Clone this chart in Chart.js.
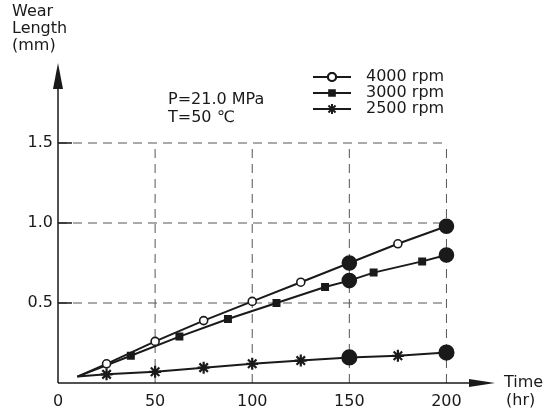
<!DOCTYPE html>
<html lang="en">
<head>
    <meta charset="UTF-8">
    <title>Wear Length vs Time</title>
    <script src="https://cdn.jsdelivr.net/npm/chart.js"></script>
    <style>
        body { margin: 0; background: #fff; }
        #wrap { width: 551px; height: 414px; position: relative; }
    </style>
</head>
<body>
    <div id="wrap"><canvas id="myChart"></canvas></div>

    <script>
        // values
        const time4000 = [10, 25, 50, 75, 100, 125, 150, 175, 200];
        const wear4000 = [0.04, 0.12, 0.26, 0.39, 0.51, 0.63, 0.75, 0.87, 0.98];
        const time3000 = [10, 37.5, 62.5, 87.5, 112.5, 137.5, 150, 162.5, 187.5, 200];
        const wear3000 = [0.04, 0.17, 0.29, 0.40, 0.50, 0.60, 0.64, 0.69, 0.76, 0.80];
        const time2500 = [10, 25, 50, 75, 100, 125, 150, 175, 200];
        const wear2500 = [0.04, 0.054, 0.07, 0.096, 0.12, 0.14, 0.16, 0.17, 0.19];
        const seriesNames = ['4000 rpm', '3000 rpm', '2500 rpm'];
        const xTicks = [0, 50, 100, 150, 200];
        const yTicks = [0.5, 1.0, 1.5];
        const bigTimes = [150, 200]; // measured points drawn as big dots

        const ink = '#1a1a1a';
        const font = '"DejaVu Sans", sans-serif';

        const pts = (t, w) => t.map((x, i) => ({ x: x, y: w[i] }));

        function makeSet(label, t, w, style, small) {
            return {
                label: label,
                data: pts(t, w),
                borderColor: ink,
                borderWidth: 2,
                pointStyle: t.map((x, i) => i === 0 ? false : (bigTimes.includes(x) ? 'circle' : style)),
                pointRadius: t.map((x, i) => i === 0 ? 0 : (bigTimes.includes(x) ? 7 : small)),
                pointBackgroundColor: t.map(x => bigTimes.includes(x) || style !== 'circle' ? ink : '#fff'),
                pointBorderColor: ink,
                pointBorderWidth: style === 'star' ? 2.2 : 1.6,
                tension: 0
            };
        }

        const markerStyles = ['circle', 'rect', 'star'];

        const decor = {
            id: 'decor',
            beforeDatasetsDraw(chart) {
                const ctx = chart.ctx;
                const xs = chart.scales.x, ys = chart.scales.y;
                const x0 = xs.getPixelForValue(0), y0 = ys.getPixelForValue(0);
                ctx.save();
                // dashed grid
                ctx.strokeStyle = '#555';
                ctx.lineWidth = 1;
                ctx.setLineDash([9, 6]);
                xTicks.slice(1).forEach(v => {
                    const px = xs.getPixelForValue(v);
                    ctx.beginPath();
                    ctx.moveTo(px, y0);
                    ctx.lineTo(px, ys.getPixelForValue(yTicks[yTicks.length - 1]));
                    ctx.stroke();
                });
                yTicks.forEach(v => {
                    const py = ys.getPixelForValue(v);
                    ctx.beginPath();
                    ctx.moveTo(x0, py);
                    ctx.lineTo(xs.getPixelForValue(xTicks[xTicks.length - 1]), py);
                    ctx.stroke();
                });
                ctx.setLineDash([]);
                // axes with arrows
                const a = chart.chartArea;
                ctx.strokeStyle = ink;
                ctx.fillStyle = ink;
                ctx.lineWidth = 1.5;
                ctx.beginPath();
                ctx.moveTo(x0, y0);
                ctx.lineTo(x0, a.top + 10);
                ctx.moveTo(x0, y0);
                ctx.lineTo(a.right - 10, y0);
                ctx.stroke();
                ctx.beginPath();
                ctx.moveTo(x0, a.top);
                ctx.lineTo(x0 - 5, a.top + 26);
                ctx.lineTo(x0 + 5, a.top + 26);
                ctx.closePath();
                ctx.fill();
                ctx.beginPath();
                ctx.moveTo(a.right, y0);
                ctx.lineTo(a.right - 26, y0 - 4);
                ctx.lineTo(a.right - 26, y0 + 4);
                ctx.closePath();
                ctx.fill();
                // small tick marks on the y axis
                yTicks.forEach(v => {
                    const py = ys.getPixelForValue(v);
                    ctx.beginPath();
                    ctx.moveTo(x0, py);
                    ctx.lineTo(x0 + 14, py);
                    ctx.stroke();
                });
                // texts
                ctx.font = '16px ' + font;
                ctx.textBaseline = 'middle';
                ctx.textAlign = 'left';
                ctx.fillText('Wear', 12, 12);
                ctx.fillText('Length', 12, 29);
                ctx.fillText('(mm)', 12, 46);
                ctx.fillText('Time', 504, 383);
                ctx.fillText('(hr)', 506, 401);
                ctx.fillText('P=21.0 MPa', 168, 100);
                ctx.fillText('T=50 \u2103', 168, 118);
                // legend
                chart.data.datasets.forEach((ds, i) => {
                    const ly = 77 + i * 16;
                    ctx.lineWidth = 2;
                    ctx.strokeStyle = ink;
                    ctx.beginPath();
                    ctx.moveTo(313, ly);
                    ctx.lineTo(351, ly);
                    ctx.stroke();
                    ctx.fillStyle = i === 0 ? '#fff' : ink;
                    Chart.helpers.drawPoint(ctx, {
                        pointStyle: markerStyles[i],
                        radius: i === 2 ? 5 : 4,
                        borderWidth: i === 2 ? 2.2 : 1.6,
                        rotation: 0
                    }, 332, ly);
                    if (i === 0) {
                        ctx.beginPath();
                        ctx.arc(332, ly, 4, 0, Math.PI * 2);
                        ctx.fill();
                        ctx.stroke();
                    }
                    ctx.fillStyle = ink;
                    ctx.fillText(seriesNames[i], 366, ly);
                });
                ctx.restore();
            }
        };

        window.addEventListener('load', () => {
            const ctx = document.getElementById('myChart').getContext('2d');
            const myChart = new Chart(ctx, {
                type: 'line',
                data: {
                    datasets: [
                        makeSet(seriesNames[0], time4000, wear4000, 'circle', 4),
                        makeSet(seriesNames[1], time3000, wear3000, 'rect', 4.5),
                        makeSet(seriesNames[2], time2500, wear2500, 'star', 6)
                    ]
                },
                options: {
                    responsive: true,
                    maintainAspectRatio: false,
                    animation: false,
                    layout: { padding: { left: 0, top: 63, right: 56, bottom: 0 } },
                    plugins: {
                        legend: { display: false },
                        tooltip: { enabled: false }
                    },
                    scales: {
                        x: {
                            type: 'linear',
                            min: 0,
                            max: 225,
                            grid: { display: false, drawTicks: false },
                            border: { display: false },
                            ticks: { color: ink, font: { family: font, size: 16 }, padding: 9, maxRotation: 0 },
                            afterBuildTicks: s => { s.ticks = xTicks.map(v => ({ value: v })); },
                            afterFit: s => { s.height = 31; }
                        },
                        y: {
                            type: 'linear',
                            min: 0,
                            max: 2.0,
                            grid: { display: false, drawTicks: false },
                            border: { display: false },
                            ticks: {
                                color: ink,
                                font: { family: font, size: 16 },
                                padding: 5,
                                callback: v => v.toFixed(1)
                            },
                            afterBuildTicks: s => { s.ticks = yTicks.map(v => ({ value: v })); },
                            afterFit: s => { s.width = 58; }
                        }
                    }
                },
                plugins: [decor]
            });
        });
    </script>
</body>
</html>
